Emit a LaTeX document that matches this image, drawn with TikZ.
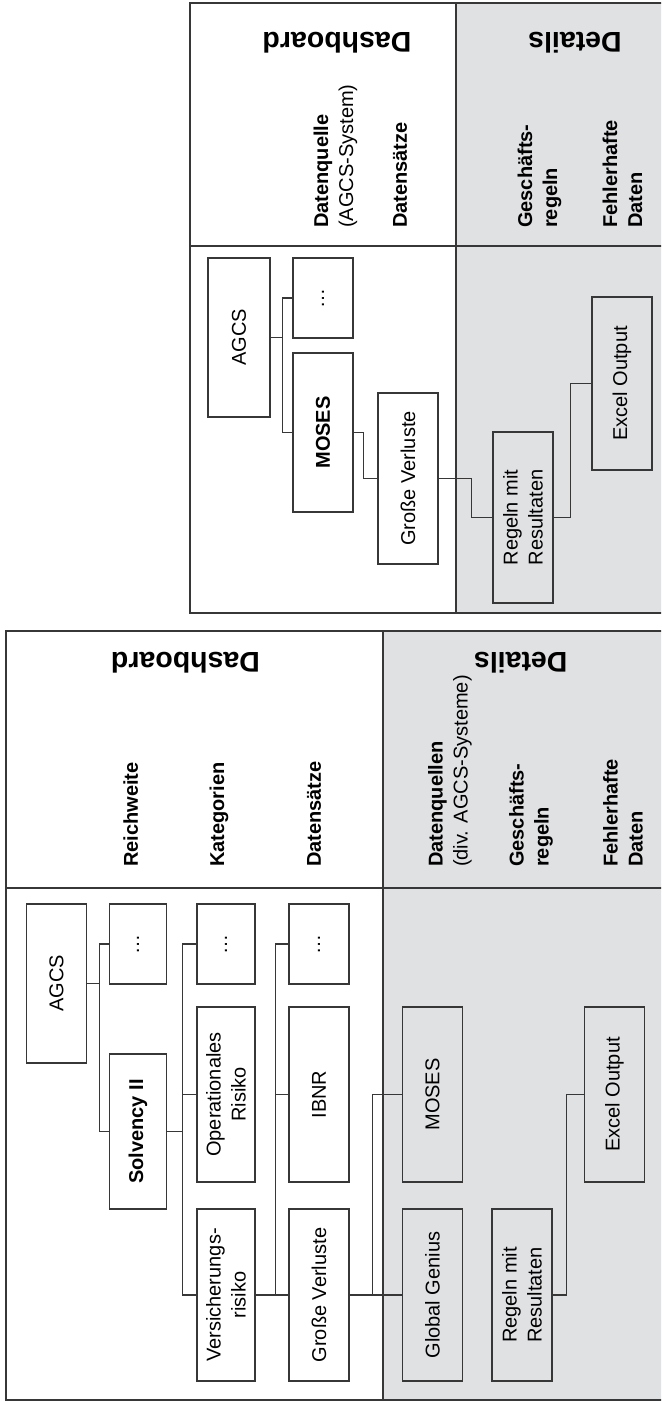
\documentclass[tikz,border=0pt]{standalone}
\usepackage{fontspec}
\setmainfont{Liberation Sans}
\definecolor{panelgray}{RGB}{224,225,227}
\definecolor{linegray}{RGB}{55,55,55}

\begin{document}
\begin{tikzpicture}[x=1pt, y=-1pt,
    box/.style={draw=linegray, line width=1.2pt, fill=white, rotate=90, inner sep=2pt, align=center, minimum height=59pt, font=\fontsize{20}{25}\selectfont},
    graybox/.style={box, fill=panelgray},
    head/.style={rotate=180, inner sep=0pt, font=\fontsize{28.5}{34}\selectfont\bfseries},
    rowlabel/.style={rotate=90, anchor=west, align=left, inner sep=0pt, font=\fontsize{20}{25}\selectfont},
    frame/.style={draw=linegray, line width=1.6pt},
    link/.style={draw=linegray, line width=1.2pt}]
    \useasboundingbox (0,0) rectangle (661,1402);
    \clip (0,0) rectangle (661,1402);

    \fill [panelgray] (456,3) rectangle (670,613);
    \draw [frame] (190,3) rectangle (670,613);
    \draw [frame] (190,246) -- (670,246);
    \draw [frame] (456,3) -- (456,613);

    \node (m_dashboard) [head] at (337,43) {Dashboard};
    \node (m_details) [head] at (575,43) {Details};
    \node (m_quelle) [rowlabel] at (335.5,228) {\textbf{Datenquelle}\\(AGCS-System)};
    \node (m_saetze) [rowlabel] at (400,228) {\textbf{Datensätze}};
    \node (m_regeln_label) [rowlabel] at (539.5,228) {\textbf{Geschäfts-}\\\textbf{regeln}};
    \node (m_fehler) [rowlabel] at (622.5,228) {\textbf{Fehlerhafte}\\\textbf{Daten}};

    \node (m_agcs) [box, minimum width=159pt, minimum height=62pt] at (239,337.5) {AGCS};
    \node (m_dots) [box, minimum width=80pt, minimum height=60pt] at (323,298) {…};
    \node (m_moses) [box, minimum width=159pt, minimum height=60pt] at (323,432.5) {\textbf{MOSES}};
    \node (m_verluste) [box, minimum width=171pt, minimum height=60pt] at (408,478.5) {Große Verluste};
    \node (m_regeln) [graybox, minimum width=171pt, minimum height=60pt] at (523,517.5) {Regeln mit\\Resultaten};
    \node (m_excel) [graybox, minimum width=173pt, minimum height=60pt] at (622,383.5) {Excel Output};

    \draw [link] (m_agcs.south) -- ++(12,0) |- (m_dots.north);
    \draw [link] (m_agcs.south) -- ++(12,0) |- (m_moses.north);
    \draw [link] (m_moses.south) -- ++(10,0) |- (m_verluste.north);
    \draw [link] (m_verluste.south) -- ++(33,0) |- (m_regeln.north);
    \draw [link] (m_regeln.south) -- ++(17,0) |- (m_excel.north);

    \fill [panelgray] (383,631) rectangle (670,1400);
    \draw [frame] (6,631) rectangle (670,1400);
    \draw [frame] (6,888) -- (670,888);
    \draw [frame] (383,631) -- (383,1400);

    \node (s_dashboard) [head] at (185.5,663) {Dashboard};
    \node (s_details) [head] at (520.7,663) {Details};
    \node (s_reichweite) [rowlabel] at (130.7,867) {\textbf{Reichweite}};
    \node (s_kategorien) [rowlabel] at (219,867) {\textbf{Kategorien}};
    \node (s_saetze) [rowlabel] at (314,867) {\textbf{Datensätze}};
    \node (s_quellen) [rowlabel] at (450,867) {\textbf{Datenquellen}\\(div. AGCS-Systeme)};
    \node (s_regeln_label) [rowlabel] at (531,867) {\textbf{Geschäfts-}\\\textbf{regeln}};
    \node (s_fehler) [rowlabel] at (623,867) {\textbf{Fehlerhafte}\\\textbf{Daten}};

    \node (s_agcs) [box, minimum width=159pt, minimum height=60pt] at (56.5,983.5) {AGCS};
    \node (s_dots1) [box, minimum width=80pt, minimum height=57pt] at (138,944) {…};
    \node (s_solvency) [box, minimum width=155pt, minimum height=57pt] at (138,1131.5) {\textbf{Solvency II}};
    \node (s_dots2) [box, minimum width=80pt, minimum height=58pt] at (226,944) {…};
    \node (s_oprisk) [box, minimum width=175pt, minimum height=58pt] at (226,1094.5) {Operationales\\Risiko};
    \node (s_versrisk) [box, minimum width=172pt, minimum height=58pt] at (226,1295) {Versicherungs-\\risiko};
    \node (s_dots3) [box, minimum width=80pt, minimum height=60pt] at (319,944) {…};
    \node (s_ibnr) [box, minimum width=175pt, minimum height=60pt] at (319,1094.5) {IBNR};
    \node (s_verluste) [box, minimum width=172pt, minimum height=60pt] at (319,1295) {Große Verluste};
    \node (s_moses) [graybox, minimum width=175pt, minimum height=60pt] at (432.5,1094.5) {MOSES};
    \node (s_genius) [graybox, minimum width=172pt, minimum height=60pt] at (432.5,1295) {Global Genius};
    \node (s_regeln) [graybox, minimum width=172pt, minimum height=60pt] at (522,1295) {Regeln mit\\Resultaten};
    \node (s_excel) [graybox, minimum width=175pt, minimum height=60pt] at (614.5,1094.5) {Excel Output};

    \draw [link] (s_agcs.south) -- ++(12,0) |- (s_dots1.north);
    \draw [link] (s_agcs.south) -- ++(12,0) |- (s_solvency.north);
    \draw [link] (s_solvency.south) -- ++(15,0) |- (s_dots2.north);
    \draw [link] (s_solvency.south) -- ++(15,0) |- (s_oprisk.north);
    \draw [link] (s_solvency.south) -- ++(15,0) |- (s_versrisk.north);
    \draw [link] (s_versrisk.south) -- ++(20,0) |- (s_dots3.north);
    \draw [link] (s_versrisk.south) -- ++(20,0) |- (s_ibnr.north);
    \draw [link] (s_versrisk.south) -- ++(20,0) |- (s_verluste.north);
    \draw [link] (s_verluste.south) -- ++(23,0) |- (s_moses.north);
    \draw [link] (s_verluste.south) -- ++(23,0) |- (s_genius.north);
    \draw [link] (s_regeln.south) -- ++(14,0) |- (s_excel.north);
\end{tikzpicture}
\end{document}
